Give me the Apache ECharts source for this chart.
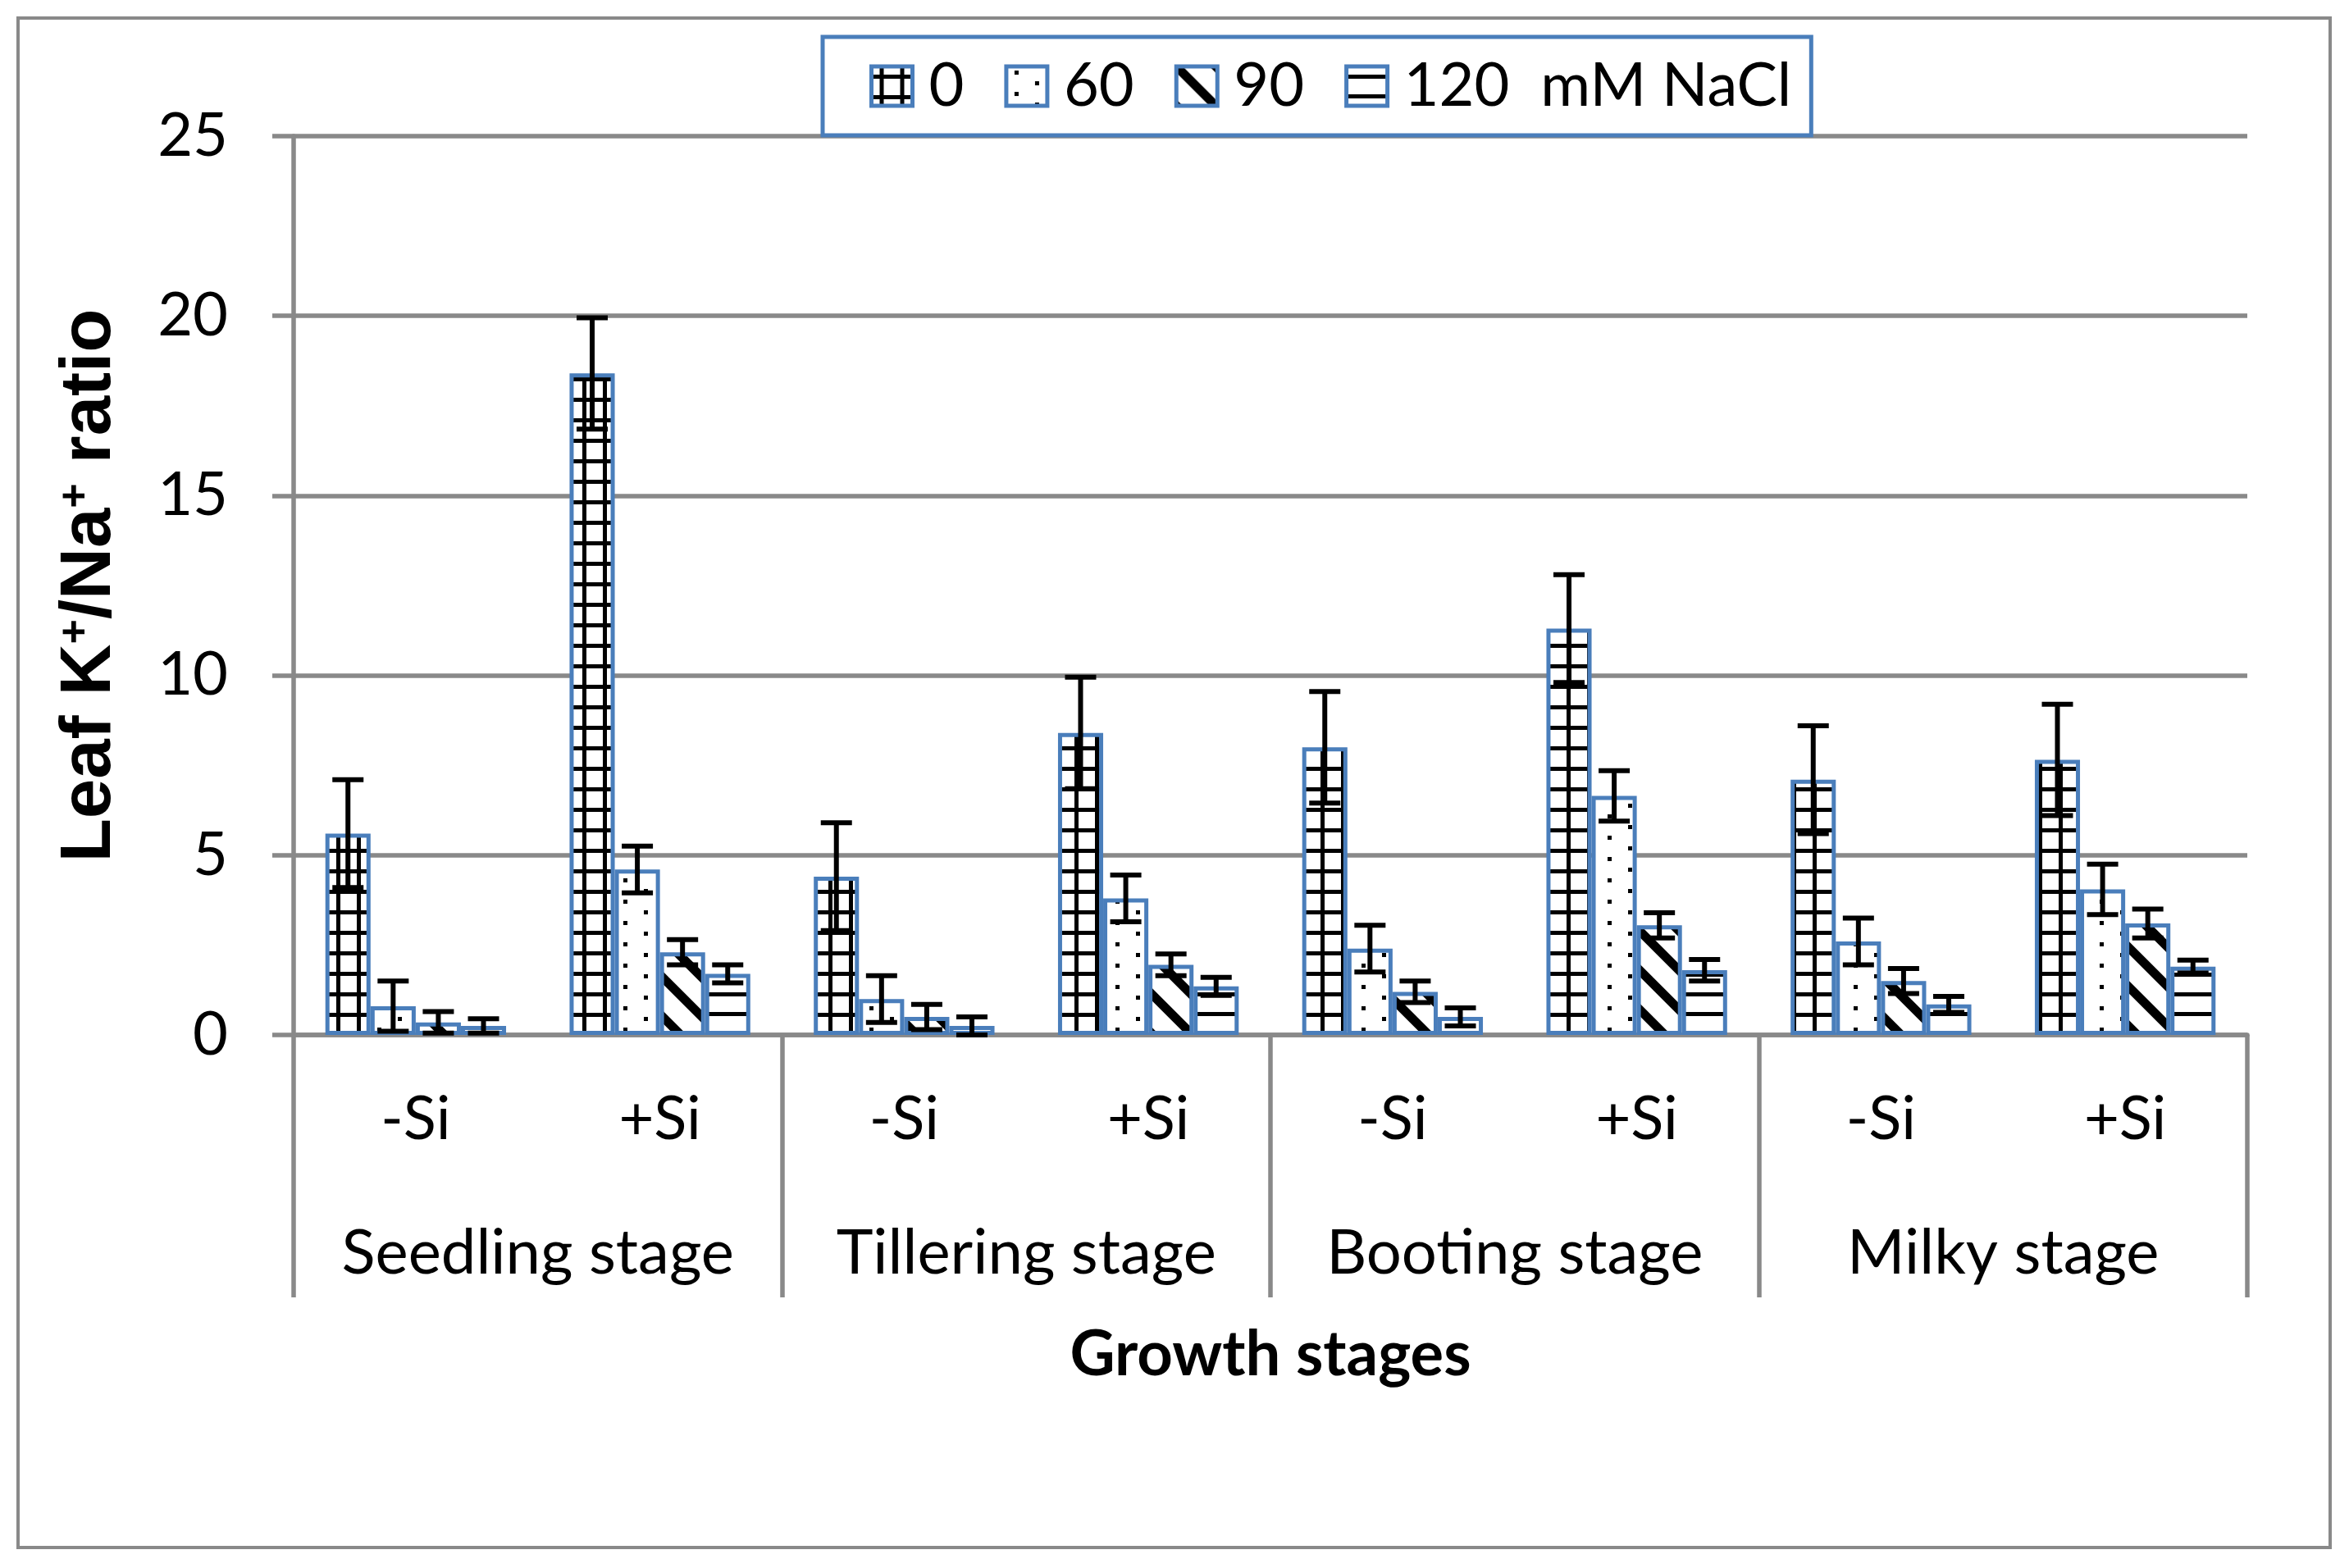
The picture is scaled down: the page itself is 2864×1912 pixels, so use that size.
<!DOCTYPE html>
<html><head><meta charset="utf-8">
<script src="https://cdn.jsdelivr.net/npm/echarts@6/dist/echarts.min.js"></script>
<style>html,body{margin:0;padding:0;background:#fff}#c{width:2864px;height:1912px}</style>
</head><body><div id="c"></div>
<script>
// ---- data ----
const categories = ['-Si', '+Si', '-Si', '+Si', '-Si', '+Si', '-Si', '+Si'];
const stages = ['Seedling stage', 'Tillering stage', 'Booting stage', 'Milky stage'];
const seriesNames = ['0', '60', '90', '120  mM NaCl'];
const s0   = [5.6, 18.4, 4.4, 8.4, 8.0, 11.3, 7.1, 7.65];
const e0   = [1.5, 1.55, 1.5, 1.55, 1.55, 1.5, 1.5, 1.55];
const s60  = [0.8, 4.6, 1.0, 3.8, 2.4, 6.65, 2.6, 4.05];
const e60  = [0.7, 0.65, 0.65, 0.65, 0.65, 0.7, 0.65, 0.7];
const s90  = [0.35, 2.3, 0.5, 1.95, 1.2, 3.05, 1.5, 3.1];
const e90  = [0.3, 0.35, 0.35, 0.3, 0.3, 0.35, 0.35, 0.4];
const s120 = [0.25, 1.7, 0.25, 1.35, 0.5, 1.8, 0.85, 1.9];
const e120 = [0.2, 0.25, 0.25, 0.25, 0.25, 0.3, 0.22, 0.18];
const yTicks = {min: 0, max: 25, interval: 5};

const values = [s0, s60, s90, s120];
const errors = [e0, e60, e90, e120];

// ---- patterns ----
function tile(w, h, draw) {
  const c = document.createElement('canvas');
  c.width = w; c.height = h;
  const g = c.getContext('2d');
  g.fillStyle = '#fff'; g.fillRect(0, 0, w, h);
  g.fillStyle = '#000'; g.strokeStyle = '#000';
  draw(g);
  return {image: c, repeat: 'repeat'};
}
const patterns = [
  tile(25, 25, g => { g.fillRect(0, 10, 25, 5); g.fillRect(10, 0, 5, 25); }),
  tile(50, 26, g => { g.fillRect(10, 5, 5, 5); g.fillRect(35, 18, 5, 5); }),
  tile(48, 48, g => {
    g.lineWidth = 11;
    [-48, 0, 48].forEach(k => { g.beginPath(); g.moveTo(k - 10, -10); g.lineTo(k + 58, 58); g.stroke(); });
  }),
  tile(24, 24, g => { g.fillRect(0, 10, 24, 5); })
];

const GRAY = '#898989', BLUE = '#4a7ebb';
const CAT_GAP = 0.26;
const FONT = 'Lato';
const LW = 5.5;

const errData = [];
values.forEach((arr, si) => arr.forEach((v, ci) => errData.push([ci, v, errors[si][ci], si])));

const chart = echarts.init(document.getElementById('c'));
chart.setOption({
  animation: false,
  backgroundColor: '#fff',
  graphic: [{
    type: 'rect', shape: {x: 22, y: 22, width: 2819, height: 1865},
    style: {fill: 'none', stroke: GRAY, lineWidth: 4}, z: -1
  }],
  grid: {left: 358, right: 124, top: 166, bottom: 650},
  legend: {
    data: seriesNames, left: 1003, top: 45, icon: 'rect',
    itemWidth: 50, itemHeight: 48, itemGap: 49,
    padding: [23, 24, 23, 57],
    borderColor: BLUE, borderWidth: 5, backgroundColor: '#fff', z: 10,
    itemStyle: {borderColor: BLUE, borderWidth: 5},
    textStyle: {fontFamily: FONT, fontSize: 74, color: '#000', padding: [0, 0, 0, 15]}
  },
  xAxis: [{
    type: 'category', data: categories, position: 'bottom',
    axisLine: {lineStyle: {color: GRAY, width: LW}},
    axisTick: {length: 159, interval: 0, lineStyle: {color: GRAY, width: LW}},
    axisLabel: {interval: 0, margin: 66, fontFamily: FONT, fontSize: 74, color: '#000'},
    splitLine: {show: false}
  }, {
    type: 'category', data: stages, position: 'bottom',
    axisLine: {show: false},
    axisTick: {show: true, length: 320, interval: 0, lineStyle: {color: GRAY, width: LW}},
    axisLabel: {interval: 0, margin: 228, fontFamily: FONT, fontSize: 76, color: '#000'},
    name: 'Growth stages', nameLocation: 'middle', nameGap: 352,
    nameTextStyle: {fontFamily: FONT, fontWeight: 'bold', fontSize: 76, color: '#000'}
  }],
  yAxis: {
    type: 'value', min: yTicks.min, max: yTicks.max, interval: yTicks.interval,
    axisLine: {show: true, lineStyle: {color: GRAY, width: LW}},
    axisTick: {show: true, length: 26, lineStyle: {color: GRAY, width: LW}},
    axisLabel: {fontFamily: FONT, fontSize: 74, color: '#000', margin: 80},
    splitLine: {lineStyle: {color: GRAY, width: LW}},
    name: 'Leaf K{s|+}/Na{s|+} ratio', nameLocation: 'middle', nameGap: 204, nameRotate: 90,
    nameTextStyle: {
      fontFamily: 'Liberation Sans', fontWeight: 'bold', fontSize: 87, color: '#000',
      rich: {s: {fontFamily: 'Liberation Sans', fontWeight: 'bold', fontSize: 52, color: '#000', verticalAlign: 'top'}}
    }
  },
  series: values.map((arr, si) => ({
    type: 'bar', name: seriesNames[si], data: arr, xAxisIndex: 0,
    barGap: '0%', barCategoryGap: (CAT_GAP * 100) + '%',
    itemStyle: {color: patterns[si], borderColor: BLUE, borderWidth: 5},
    emphasis: {disabled: true}
  })).concat([{
    type: 'custom', name: 'err', xAxisIndex: 0, z: 5, data: errData,
    encode: {x: 0, y: 1},
    renderItem: function (params, api) {
      const ci = api.value(0), v = api.value(1), e = api.value(2), si = api.value(3);
      const c = api.coord([ci, v]);
      const band = api.size([1, 0])[0];
      const bw = band * (1 - CAT_GAP) / 4;
      const x = c[0] - 2 * bw + (si + 0.5) * bw;
      const yt = api.coord([ci, v + e])[1];
      const yb = api.coord([ci, Math.max(v - e, 0)])[1];
      const hw = 19;
      const st = {stroke: '#000', lineWidth: 6};
      return {type: 'group', children: [
        {type: 'line', shape: {x1: x, y1: yt, x2: x, y2: yb}, style: st},
        {type: 'line', shape: {x1: x - hw, y1: yt, x2: x + hw, y2: yt}, style: st},
        {type: 'line', shape: {x1: x - hw, y1: yb, x2: x + hw, y2: yb}, style: st}
      ]};
    }
  }])
});
</script></body></html>
